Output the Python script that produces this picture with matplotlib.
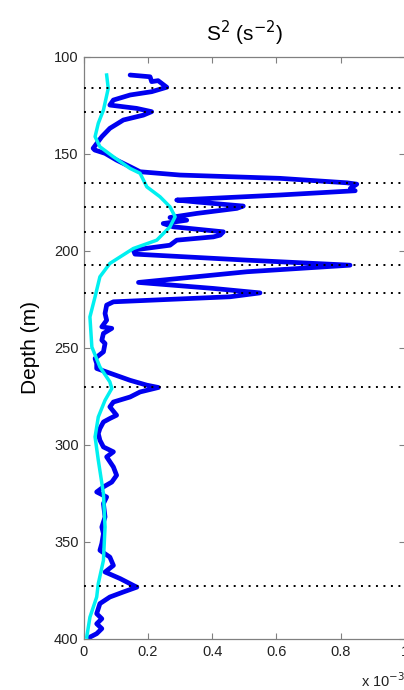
import matplotlib
matplotlib.use("Agg")
import matplotlib.pyplot as plt
import numpy as np

plt.rcParams['font.family'] = ['Liberation Sans', 'DejaVu Sans']

# Squared vertical shear profile, S^2 in units of 1e-3 s^-2
s2_depth = [109.3, 110.2, 112.7, 112.2, 115.6, 117.9, 119.6, 122.2, 124.8, 126.5,
            128.2, 130.0, 132.5, 136.8, 141.1, 147.1, 148.0, 149.7, 153.2, 156.6,
            159.2, 160.9, 162.6, 164.9, 165.6, 167.8, 169.0, 171.2, 173.8, 174.8,
            176.9, 178.1, 180.7, 182.8, 184.2, 185.9, 187.6, 190.2, 191.9, 192.8,
            194.5, 197.1, 199.6, 201.7, 204.8, 207.4, 210.8, 216.3, 219.4, 221.7,
            223.7, 226.3, 228.0, 232.3, 235.8, 239.2, 240.0, 242.6, 246.1, 247.8,
            252.1, 255.5, 258.1, 260.7, 262.5, 266.8, 269.3, 270.5, 272.8, 275.4,
            278.0, 280.5, 284.8, 286.5, 288.3, 291.7, 294.3, 297.7, 301.2, 303.7,
            306.3, 311.5, 315.8, 319.3, 321.8, 324.4, 327.0, 330.4, 337.3, 342.5,
            345.9, 351.0, 354.5, 358.0, 362.3, 365.7, 369.1, 372.6, 373.5, 376.0,
            378.6, 382.0, 387.2, 389.8, 392.4, 394.9, 397.5, 399.3]
s2_value = [0.145, 0.207, 0.212, 0.232, 0.259, 0.212, 0.145, 0.093, 0.082, 0.165,
            0.212, 0.186, 0.124, 0.082, 0.057, 0.030, 0.035, 0.067, 0.103, 0.145,
            0.176, 0.300, 0.611, 0.819, 0.850, 0.830, 0.845, 0.611, 0.290, 0.352,
            0.497, 0.477, 0.352, 0.269, 0.321, 0.248, 0.279, 0.435, 0.425, 0.404,
            0.290, 0.269, 0.155, 0.160, 0.508, 0.829, 0.508, 0.171, 0.404, 0.549,
            0.456, 0.093, 0.072, 0.067, 0.072, 0.057, 0.088, 0.062, 0.057, 0.067,
            0.062, 0.036, 0.041, 0.041, 0.072, 0.145, 0.197, 0.233, 0.176, 0.145,
            0.093, 0.082, 0.103, 0.082, 0.062, 0.051, 0.046, 0.051, 0.062, 0.093,
            0.072, 0.093, 0.103, 0.088, 0.062, 0.041, 0.072, 0.062, 0.067, 0.057,
            0.062, 0.057, 0.051, 0.082, 0.093, 0.067, 0.114, 0.155, 0.166, 0.124,
            0.082, 0.051, 0.041, 0.057, 0.041, 0.057, 0.041, 0.020]

# Smoothed background profile
smooth_depth = [109.3, 116.2, 127.4, 134.2, 141.1, 146.3, 151.5, 157.5, 160.0, 167.0,
                172.1, 177.3, 182.4, 187.6, 194.5, 198.8, 206.5, 213.4, 223.7, 234.1,
                249.6, 259.9, 267.6, 271.0, 277.1, 285.7, 296.0, 308.0, 325.2, 342.5,
                359.7, 371.7, 378.6, 389.0, 399.3]
smooth_value = [0.072, 0.077, 0.062, 0.046, 0.036, 0.051, 0.093, 0.145, 0.176, 0.197,
                0.238, 0.269, 0.285, 0.269, 0.228, 0.155, 0.082, 0.051, 0.036, 0.020,
                0.026, 0.051, 0.082, 0.088, 0.067, 0.046, 0.036, 0.046, 0.062, 0.067,
                0.062, 0.046, 0.041, 0.020, 0.010]

# Depths of marked shear maxima
peak_depths = [116.1, 128.2, 164.8, 177.5, 190.2, 207.1, 221.5, 270.3, 373.0]

x_ticks = [0, 0.2, 0.4, 0.6, 0.8, 1.0]
x_tick_labels = ['0', '0.2', '0.4', '0.6', '0.8', '1']
y_ticks = [100, 150, 200, 250, 300, 350, 400]

fig = plt.figure(figsize=(4.04, 6.90), dpi=100)
ax = fig.add_axes([83.5 / 404, 1 - 638.5 / 690, (405 - 83.5) / 404, (638.5 - 57) / 690])

ax.plot(s2_value, s2_depth, color='#0000f0', lw=3.4, solid_joinstyle='round',
        solid_capstyle='round', zorder=2)
ax.plot(smooth_value, smooth_depth, color='#00f0f0', lw=2.5, solid_joinstyle='round',
        zorder=3)
for d in peak_depths:
    ax.axhline(d, color='black', lw=1.4, linestyle=(0, (1, 2.85)), zorder=4)

ax.set_xlim(0, 1.0)
ax.set_ylim(400, 100)
ax.set_xticks(x_ticks)
ax.set_xticklabels(x_tick_labels)
ax.set_yticks(y_ticks)
ax.tick_params(direction='in', length=4, width=0.8, color='#808080',
               labelsize=10.5, top=True, right=True, labelcolor='#222222')
ax.tick_params(axis='x', pad=5)
ax.tick_params(axis='y', pad=3.5)
for sp in ax.spines.values():
    sp.set_color('#808080')
    sp.set_linewidth(0.9)

ax.set_ylabel('Depth (m)', fontsize=15, labelpad=10)
fig.text(245 / 404, 1 - 33 / 690, 'S$^2$ (s$^{-2}$)', fontsize=15,
         ha='center', va='center')
fig.text(361 / 404, 1 - 681 / 690, 'x 10$^{-3}$', fontsize=10.5,
         ha='left', va='center', color='#222222')

fig.savefig('out.png', dpi=100)
